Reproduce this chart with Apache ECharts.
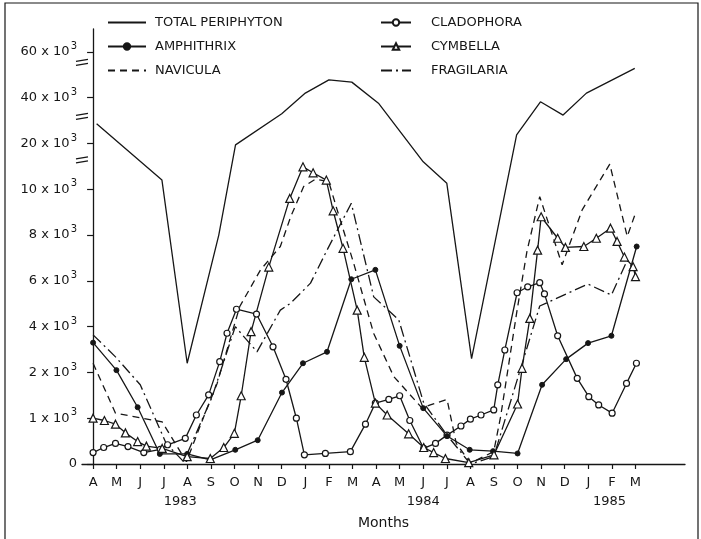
<!DOCTYPE html>
<html>
<head>
<meta charset="utf-8">
<script src="https://cdn.jsdelivr.net/npm/echarts@6/dist/echarts.min.js"></script>
<style>
  html, body { margin: 0; padding: 0; background: #fff; }
  #chart { width: 701px; height: 539px; }
</style>
</head>
<body>
<div id="chart"></div>
<script>
// x 轴：月份（1983年4月 = 0）
const monthLabels = ['A','M','J','J','A','S','O','N','D','J','F','M','A','M','J','J','A','S','O','N','D','J','F','M'];
const yearLabels = ['1983', '1984', '1985'];
// y 轴刻度（单位 10^3），刻度间距相等
const yTickValues = [0, 1, 2, 4, 6, 8, 10, 20, 40, 60];

// 各序列：采样月份位置 + 数值（x 10^3）
const totalMonth = [0.15, 2.92, 3.99, 5.33, 6.04, 8.0, 9.0, 10.0, 10.97, 12.1, 14.0, 15.0, 16.05, 17.96, 18.97, 19.93, 20.92, 22.97];
const totalValue = [28.6, 12.0, 2.4, 8.0, 19.7, 33, 42, 47.8, 46.8, 37.6, 16.0, 11.3, 2.6, 23.8, 38.2, 32.4, 42, 52.8];

const amphiMonth = [0, 0.99, 1.89, 2.83, 3.99, 4.97, 6.03, 6.98, 8.01, 8.9, 9.92, 10.95, 11.97, 13.0, 14.0, 15.01, 15.97, 16.96, 18.0, 19.04, 20.06, 20.99, 21.98, 23.05];
const amphiValue = [3.3, 2.1, 1.24, 0.22, 0.22, 0.09, 0.31, 0.52, 1.56, 2.4, 2.9, 6.07, 6.48, 3.16, 1.22, 0.61, 0.31, 0.28, 0.23, 1.73, 2.58, 3.28, 3.6, 7.5];

const cladoMonth = [0, 0.45, 0.95, 1.48, 2.15, 2.85, 3.16, 3.91, 4.38, 4.9, 5.37, 5.68, 6.08, 6.93, 7.63, 8.18, 8.62, 8.96, 9.85, 10.91, 11.55, 11.97, 12.54, 13.0, 13.43, 14.02, 14.52, 15.01, 15.6, 16.0, 16.45, 16.99, 17.16, 17.46, 17.98, 18.43, 18.94, 19.14, 19.7, 20.53, 21.02, 21.44, 22.01, 22.62, 23.04];
const cladoValue = [0.25, 0.36, 0.45, 0.38, 0.25, 0.32, 0.42, 0.56, 1.07, 1.51, 2.47, 3.71, 4.76, 4.55, 3.12, 1.85, 1.0, 0.2, 0.23, 0.27, 0.87, 1.33, 1.41, 1.49, 0.95, 0.34, 0.45, 0.63, 0.83, 0.98, 1.07, 1.18, 1.73, 2.98, 5.48, 5.74, 5.92, 5.43, 3.6, 1.87, 1.47, 1.29, 1.11, 1.76, 2.4];

const cymbMonth = [0, 0.48, 0.95, 1.37, 1.89, 2.26, 2.93, 3.99, 4.97, 5.54, 5.99, 6.28, 6.7, 7.45, 8.34, 8.9, 9.33, 9.89, 10.18, 10.6, 11.2, 11.5, 11.97, 12.47, 13.38, 14.02, 14.44, 14.94, 15.93, 17.0, 18.0, 18.19, 18.52, 18.85, 19.0, 19.7, 20.03, 20.81, 21.34, 21.94, 22.22, 22.53, 22.9, 23.0];
const cymbValue = [1.0, 0.95, 0.87, 0.68, 0.49, 0.39, 0.34, 0.16, 0.12, 0.36, 0.67, 1.49, 3.78, 6.6, 9.6, 14.9, 13.6, 12.0, 9.06, 7.42, 4.72, 2.66, 1.33, 1.07, 0.66, 0.36, 0.25, 0.12, 0.03, 0.2, 1.31, 2.18, 4.36, 7.34, 8.8, 7.86, 7.46, 7.5, 7.86, 8.3, 7.72, 7.04, 6.62, 6.18];

const naviMonth = [0, 0.95, 2.93, 3.96, 4.72, 5.26, 6.22, 7.1, 7.94, 8.38, 8.93, 9.43, 9.99, 10.35, 11.05, 11.9, 12.75, 13.95, 14.3, 15.01, 15.4, 16.0, 16.99, 17.28, 17.98, 18.4, 18.94, 19.89, 20.74, 21.91, 22.65, 23.0];
const naviValue = [2.4, 1.11, 0.92, 0.05, 1.07, 1.76, 4.88, 6.48, 7.5, 8.8, 10.6, 12.2, 11.7, 9.1, 6.77, 3.7, 1.91, 1.22, 1.29, 1.41, 0.45, 0.02, 0.27, 1.03, 4.72, 7.3, 9.68, 6.7, 9.1, 15.5, 7.94, 8.95];

const fragiMonth = [0, 0.95, 2.0, 3.1, 3.84, 5.05, 6.03, 6.95, 7.94, 8.37, 9.22, 9.92, 10.95, 11.9, 12.96, 14.02, 15.01, 16.0, 16.99, 18.94, 20.98, 21.98, 22.65, 23.0];
const fragiValue = [3.64, 2.68, 1.73, 0.45, 0.05, 1.47, 4.0, 2.9, 4.72, 5.02, 5.9, 7.34, 9.39, 5.3, 4.3, 1.33, 0.63, 0.0, 0.16, 4.9, 5.86, 5.38, 6.9, 6.4];

const kFont = 'DejaVu Sans';
const kInk = '#161616';
const xMin = -0.47;
const xMax = 25.1;
const yMax = 9.5;
const yearAt = [3.7, 14.0, 21.9]; // 年份标签位置
const breakAt = [6.64, 7.59, 8.77]; // 断轴符号位置（轴坐标）

let chart;

window.onload = function () {
  chart = echarts.init(document.getElementById('chart'));
  render();
};

// 把数值映射到等距刻度轴上（分段线性）
function toAxis(v) {
  for (let i = 0; i < yTickValues.length - 1; i++) {
    const a = yTickValues[i];
    const b = yTickValues[i + 1];
    if (v <= b) {
      return i + (v - a) / (b - a);
    }
  }
  return yTickValues.length - 1;
}

function makeData(months, values) {
  return months.map((m, i) => [m, toAxis(values[i])]);
}

function lineSeries(name, months, values, extra) {
  return Object.assign({
    name,
    type: 'line',
    data: makeData(months, values),
    symbol: 'none',
    color: kInk,
    lineStyle: { color: kInk, width: 1.3 },
    itemStyle: { color: kInk },
    animation: false,
    z: 3,
  }, extra);
}

// 无标记的序列在图例里只画线
function legendItem(name, plain) {
  return plain ? { name, itemStyle: { opacity: 0 } } : { name };
}

function render() {
  const legendBase = {
    orient: 'vertical',
    itemHeight: 8,
    itemGap: 11,
    selectedMode: false,
  };
  const legendText = { fontFamily: kFont, fontSize: 13, color: kInk };

  const option = {
    backgroundColor: '#fff',
    animation: false,
    grid: { left: 82, right: 16, top: 29, bottom: 75 },
    legend: [
      Object.assign({}, legendBase, {
        left: 102, top: 11, itemWidth: 38,
        data: [
          legendItem('TOTAL PERIPHYTON', true),
          legendItem('AMPHITHRIX', false),
          legendItem('NAVICULA', true),
        ],
        textStyle: Object.assign({}, legendText, { padding: [0, 0, 0, 4] }),
      }),
      Object.assign({}, legendBase, {
        left: 375, top: 11, itemWidth: 30,
        data: [
          legendItem('CLADOPHORA', false),
          legendItem('CYMBELLA', false),
          legendItem('FRAGILARIA', true),
        ],
        textStyle: Object.assign({}, legendText, { padding: [0, 0, 0, 15] }),
      }),
    ],
    xAxis: [{
      type: 'value',
      min: xMin,
      max: xMax,
      name: 'Months',
      nameLocation: 'middle',
      nameGap: 52,
      nameTextStyle: { fontFamily: kFont, fontSize: 14, color: kInk },
      axisLine: { show: true, onZero: false, lineStyle: { color: kInk, width: 1.3 } },
      axisTick: {
        show: true, length: 5, lineStyle: { color: kInk, width: 1.2 },
        customValues: monthLabels.map((_, i) => i),
      },
      axisLabel: {
        fontFamily: kFont, fontSize: 13, color: kInk, margin: 12,
        customValues: monthLabels.map((_, i) => i),
        formatter: v => monthLabels[Math.round(v)] || '',
      },
      splitLine: { show: false },
    }, {
      type: 'value',
      min: xMin,
      max: xMax,
      position: 'bottom',
      offset: 19,
      axisLine: { show: false },
      axisTick: { show: false },
      axisLabel: {
        fontFamily: kFont, fontSize: 13, color: kInk, margin: 12,
        customValues: yearAt,
        formatter: v => yearLabels[yearAt.indexOf(v)] || '',
      },
      splitLine: { show: false },
    }],
    yAxis: {
      type: 'value',
      min: 0,
      max: yMax,
      axisLine: { show: true, lineStyle: { color: kInk, width: 1.3 } },
      axisTick: {
        show: true, length: 6, lineStyle: { color: kInk, width: 1.2 },
        customValues: yTickValues.map((_, i) => i),
      },
      axisLabel: {
        margin: 5,
        customValues: yTickValues.map((_, i) => i),
        formatter: v => {
          const val = yTickValues[Math.round(v)];
          return val === 0 ? '{n|0}' : `{n|${val} x 10}{s|3}`;
        },
        rich: {
          n: { fontFamily: kFont, fontSize: 13, color: kInk },
          s: { fontFamily: kFont, fontSize: 10, color: kInk, padding: [0, 0, 11, 1] },
        },
      },
      splitLine: { show: false },
    },
    series: [
      lineSeries('TOTAL PERIPHYTON', totalMonth, totalValue),
      lineSeries('CLADOPHORA', cladoMonth, cladoValue, {
        symbol: 'circle', symbolSize: 6,
        itemStyle: { color: '#fff', borderColor: kInk, borderWidth: 1.2 },
      }),
      lineSeries('AMPHITHRIX', amphiMonth, amphiValue, {
        symbol: 'circle', symbolSize: 5,
        itemStyle: { color: kInk, borderColor: kInk, borderWidth: 1 },
      }),
      lineSeries('CYMBELLA', cymbMonth, cymbValue, {
        symbol: 'triangle', symbolSize: 8,
        itemStyle: { color: '#fff', borderColor: kInk, borderWidth: 1.2 },
      }),
      lineSeries('NAVICULA', naviMonth, naviValue, {
        lineStyle: { color: kInk, width: 1.3, type: [7, 5] },
      }),
      lineSeries('FRAGILARIA', fragiMonth, fragiValue, {
        lineStyle: { color: kInk, width: 1.3, type: [11, 4, 2, 4] },
      }),
    ],
  };

  chart.setOption(option);

  // 断轴符号与外框
  const axisX = chart.convertToPixel({ xAxisIndex: 0 }, xMin);
  const graphics = [{
    type: 'rect',
    shape: { x: 5, y: 3, width: 693, height: 600 },
    style: { fill: 'none', stroke: kInk, lineWidth: 1.2 },
    silent: true,
  }];
  breakAt.forEach(b => {
    const y = chart.convertToPixel({ yAxisIndex: 0 }, b);
    graphics.push({
      type: 'rect',
      shape: { x: axisX - 2, y: y - 1.5, width: 4, height: 3 },
      style: { fill: '#fff' },
      z: 10,
    });
    graphics.push({
      type: 'line',
      shape: { x1: axisX - 6, y1: y - 1, x2: axisX + 6, y2: y - 3 },
      style: { stroke: kInk, lineWidth: 1.2 },
      z: 11,
    });
    graphics.push({
      type: 'line',
      shape: { x1: axisX - 6, y1: y + 3, x2: axisX + 6, y2: y + 1 },
      style: { stroke: kInk, lineWidth: 1.2 },
      z: 11,
    });
  });
  chart.setOption({ graphic: graphics });
}
</script>
</body>
</html>
